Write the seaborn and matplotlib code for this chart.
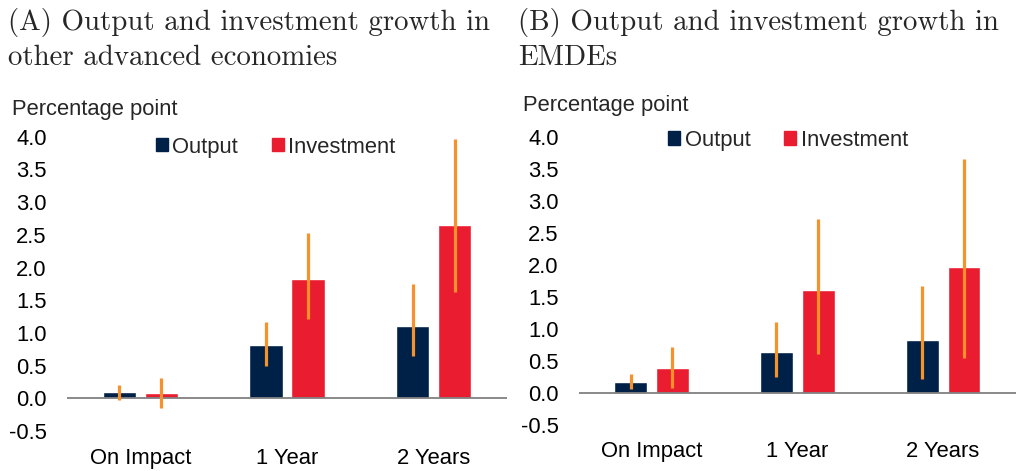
import matplotlib
matplotlib.use("Agg")
import matplotlib.pyplot as plt
from matplotlib.patches import Patch
import seaborn as sns
import pandas as pd

horizons = ["On Impact", "1 Year", "2 Years"]
series = ["Output", "Investment"]

# Panel A: other advanced economies
a_output = [0.09, 0.81, 1.11]
a_output_lo = [-0.02, 0.50, 0.64]
a_output_hi = [0.21, 1.16, 1.75]
a_invest = [0.08, 1.83, 2.65]
a_invest_lo = [-0.15, 1.21, 1.62]
a_invest_hi = [0.31, 2.53, 3.97]

# Panel B: EMDEs
b_output = [0.17, 0.64, 0.82]
b_output_lo = [0.06, 0.24, 0.21]
b_output_hi = [0.29, 1.10, 1.67]
b_invest = [0.39, 1.60, 1.96]
b_invest_lo = [0.08, 0.60, 0.55]
b_invest_hi = [0.72, 2.71, 3.65]

yticks = [-0.5, 0.0, 0.5, 1.0, 1.5, 2.0, 2.5, 3.0, 3.5, 4.0]
ytick_labels = ["-0.5", "0.0", "0.5", "1.0", "1.5", "2.0", "2.5", "3.0", "3.5", "4.0"]

title_a = "(A) Output and investment growth in\nother advanced economies"
title_b = "(B) Output and investment growth in\nEMDEs"
ylabel = "Percentage point"

NAVY = "#002147"
RED = "#E91D2F"
ORANGE = "#F7912A"
FS = 15.8

sns.set_theme(style="white")
plt.rcParams["font.family"] = ["Liberation Sans", "DejaVu Sans"]

fig = plt.figure(figsize=(10.16, 4.71), dpi=100)
H = 471.0
W = 1016.0
ax_a = fig.add_axes([67 / W, 1 - 431 / H, 440 / W, (431 - 136.7) / H])
ax_b = fig.add_axes([578.7 / W, 1 - 424.7 / H, 437.3 / W, (424.7 - 136.7) / H])


def draw(ax, out, out_lo, out_hi, inv, inv_lo, inv_hi, leg_y, leg_x):
    df = pd.DataFrame({
        "horizon": horizons * 2,
        "series": [series[0]] * 3 + [series[1]] * 3,
        "value": out + inv,
    })
    sns.barplot(data=df, x="horizon", y="value", hue="series",
                order=horizons, hue_order=series,
                palette=[NAVY, RED], width=0.573, gap=0.213,
                errorbar=None, ax=ax, legend=False, saturation=1)
    lows = [out_lo, inv_lo]
    highs = [out_hi, inv_hi]
    for cont, lo, hi in zip(ax.containers, lows, highs):
        for bar, l, h in zip(cont.patches, lo, hi):
            xc = bar.get_x() + bar.get_width() / 2
            ax.vlines(xc, l, h, color=ORANGE, lw=2.3, zorder=5)
    ax.axhline(0, color="#808080", lw=1.3, zorder=1)
    ax.set_ylim(-0.5, 4.0)
    ax.set_xlim(-0.5, 2.5)
    ax.set_yticks(yticks)
    ax.set_yticklabels(ytick_labels)
    ax.set_xlabel("")
    ax.set_ylabel("")
    for s in ax.spines.values():
        s.set_visible(False)
    ax.tick_params(axis="y", length=0, pad=14.5, labelsize=FS, colors="black")
    ax.tick_params(axis="x", length=0, pad=12, labelsize=FS, colors="black")
    ax.set_facecolor("none")
    handles = [Patch(color=NAVY, label=series[0]), Patch(color=RED, label=series[1])]
    ax.legend(handles=handles, loc="center", bbox_to_anchor=(leg_x, leg_y),
              ncol=2, frameon=False, fontsize=FS, handlelength=0.55,
              handleheight=0.55, handletextpad=0.2, columnspacing=1.55)


draw(ax_a, a_output, a_output_lo, a_output_hi, a_invest, a_invest_lo, a_invest_hi, 0.965, 0.474)
draw(ax_b, b_output, b_output_lo, b_output_hi, b_invest, b_invest_lo, b_invest_hi, 0.988, 0.479)

fig.text(8 / W, 1 - 8 / H, title_a, ha="left", va="top", fontsize=20.8,
         family="cmr10", linespacing=1.36)
fig.text(518 / W, 1 - 8 / H, title_b, ha="left", va="top", fontsize=20.8,
         family="cmr10", linespacing=1.36)
fig.text(12 / W, 1 - 110 / H, ylabel, ha="left", va="center", fontsize=FS)
fig.text(523 / W, 1 - 106 / H, ylabel, ha="left", va="center", fontsize=FS)

fig.savefig("out.png", dpi=100)
